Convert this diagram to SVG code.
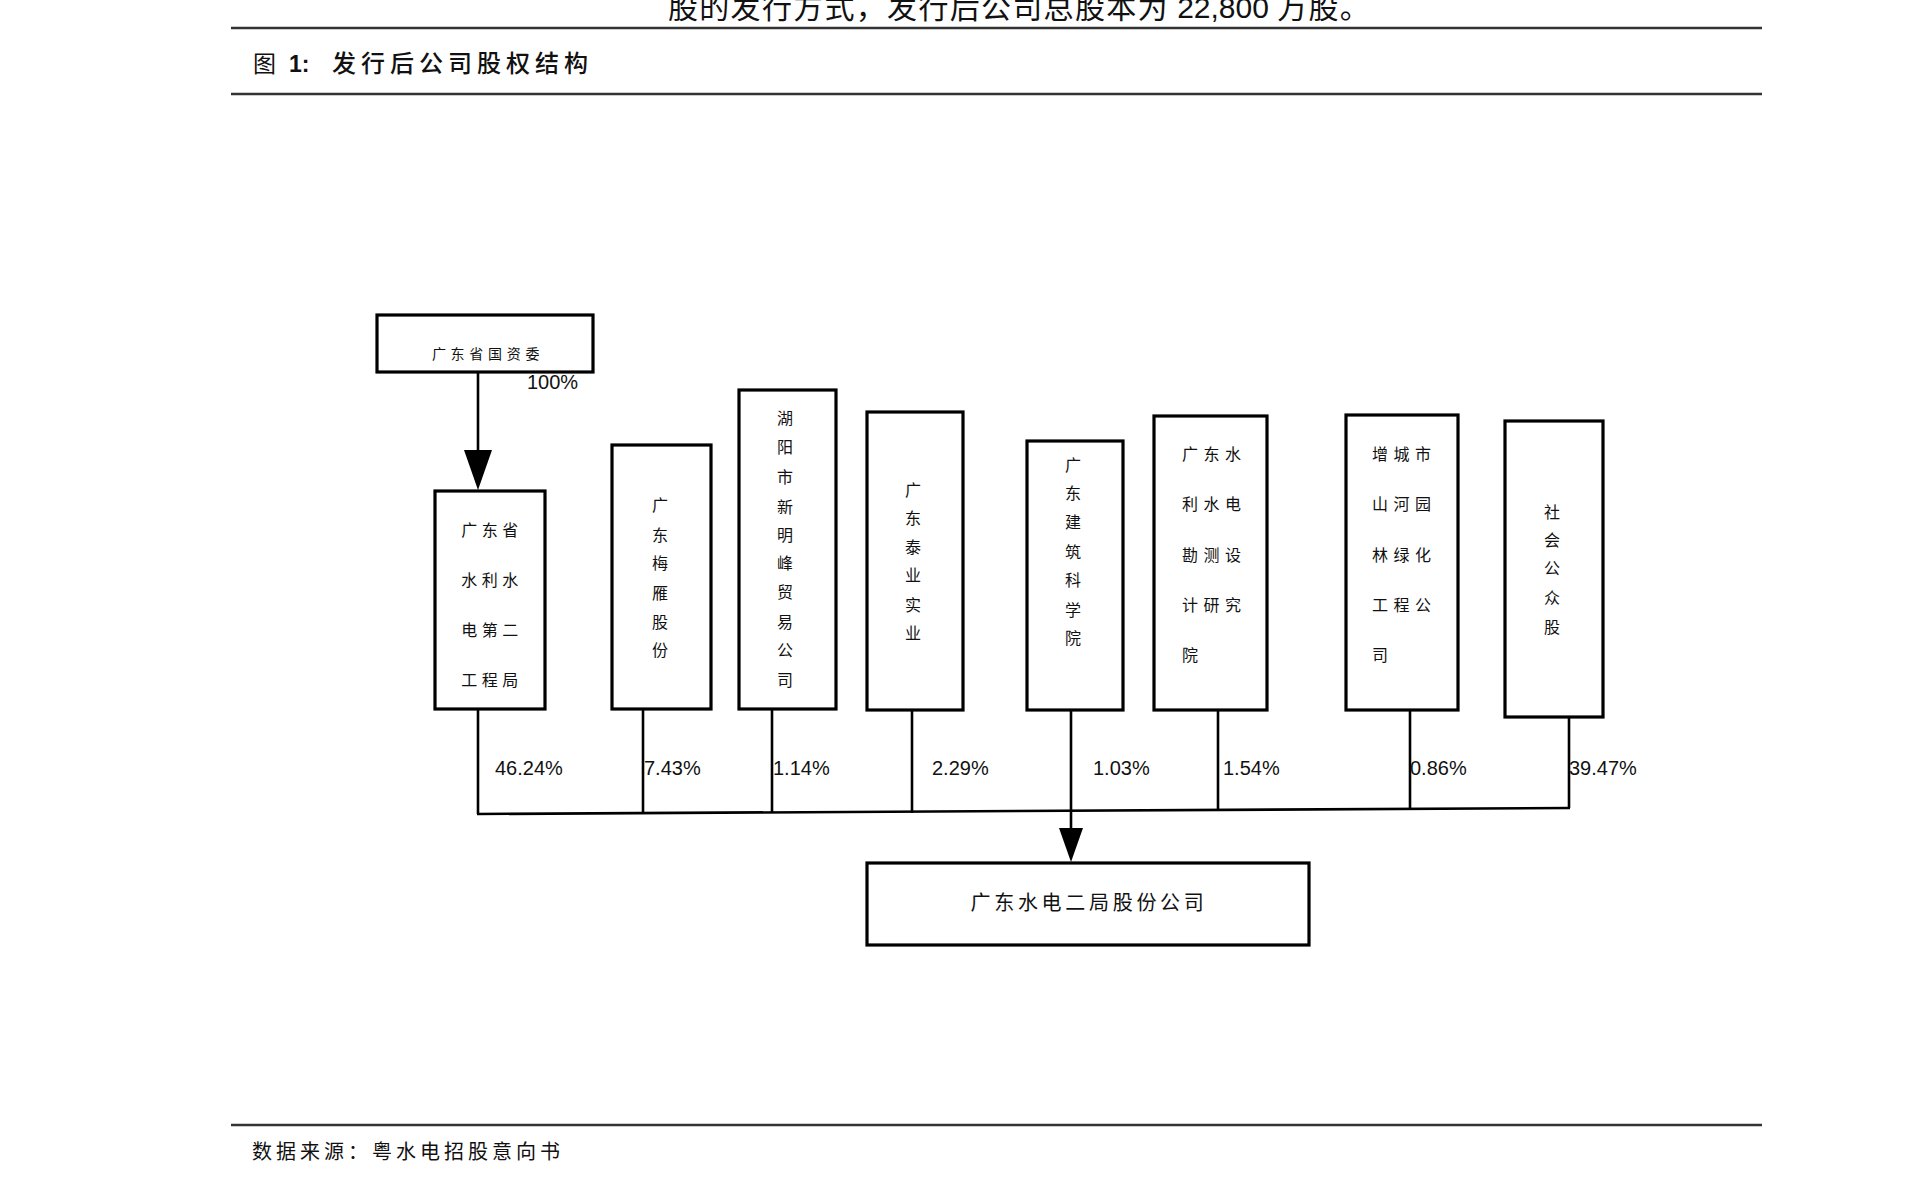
<svg xmlns="http://www.w3.org/2000/svg" width="1920" height="1197" viewBox="0 0 1920 1197">
<style>
.bg{fill:#fff}
.rule{stroke:#333;stroke-width:2.5;fill:none}
.box{fill:#fff;stroke:#000;stroke-width:3.2}
.cn{font-family:"Noto Sans CJK SC","Noto Sans",sans-serif;fill:#111}
.bx{font-size:16px;letter-spacing:4.5px}
.col{font-size:16px;text-anchor:middle}
.pct{font-family:"Liberation Sans",Arial,sans-serif;font-size:20px;fill:#111}
.ln{stroke:#000;stroke-width:2.6;fill:none}
.ah{fill:#000}
</style>
<rect class="bg" x="0" y="0" width="1920" height="1197"/>

<g id="header">
<text class="cn" x="668" y="18" font-size="30" letter-spacing="1.3">股的发行方式，发行后公司总股本为<tspan font-family="Liberation Sans, Arial, sans-serif" letter-spacing="0"> 22,800 </tspan>万股。</text>
<line class="rule" x1="231" y1="28" x2="1762" y2="28"/>
<text class="cn" x="253" y="72" font-size="23">图</text>
<text x="289" y="72" font-family="Liberation Sans, Arial, sans-serif" font-size="23" font-weight="bold" fill="#111">1:</text>
<text class="cn" x="332" y="72" font-size="24" letter-spacing="5" font-weight="500">发行后公司股权结构</text>
<line class="rule" x1="231" y1="94" x2="1762" y2="94"/>
</g>

<g id="connectors">
<line class="ln" x1="478" y1="372" x2="478" y2="452"/>
<polygon class="ah" points="464,450 492,450 478,490"/>
<line class="ln" x1="478" y1="709" x2="478" y2="814"/>
<line class="ln" x1="643" y1="709" x2="643" y2="814"/>
<line class="ln" x1="772" y1="709" x2="772" y2="813"/>
<line class="ln" x1="912" y1="709" x2="912" y2="813"/>
<line class="ln" x1="1218" y1="709" x2="1218" y2="811"/>
<line class="ln" x1="1410" y1="710" x2="1410" y2="810"/>
<line class="ln" x1="1569" y1="717" x2="1569" y2="808"/>
<line class="ln" x1="477" y1="814" x2="1570" y2="808"/>
<line class="ln" x1="1071" y1="709" x2="1071" y2="830"/>
<polygon class="ah" points="1059,828 1083,828 1071,862"/>
<text class="pct" x="527" y="389" font-size="18">100%</text>
<text class="pct" x="495" y="775">46.24%</text>
<text class="pct" x="644" y="775">7.43%</text>
<text class="pct" x="773" y="775">1.14%</text>
<text class="pct" x="932" y="775">2.29%</text>
<text class="pct" x="1093" y="775">1.03%</text>
<text class="pct" x="1223" y="775">1.54%</text>
<text class="pct" x="1410" y="775">0.86%</text>
<text class="pct" x="1569" y="775">39.47%</text>
</g>

<g id="n-guoziwei">
<rect class="box" x="377" y="315" width="216" height="57"/>
<text class="cn" x="488" y="359" font-size="14" letter-spacing="4.7" text-anchor="middle">广东省国资委</text>
</g>

<g id="n-erju">
<rect class="box" x="435" y="491" width="110" height="218"/>
<text class="cn bx" x="492" text-anchor="middle"><tspan x="492" y="536">广东省</tspan><tspan x="492" y="586">水利水</tspan><tspan x="492" y="636">电第二</tspan><tspan x="492" y="686">工程局</tspan></text>
</g>

<g id="n-meiyan">
<rect class="box" x="612" y="445" width="99" height="264"/>
<text class="cn col"><tspan x="660" y="511">广</tspan><tspan x="660" y="541">东</tspan><tspan x="660" y="569">梅</tspan><tspan x="660" y="599">雁</tspan><tspan x="660" y="628">股</tspan><tspan x="660" y="656">份</tspan></text>
</g>

<g id="n-xinmingfeng">
<rect class="box" x="739" y="390" width="97" height="319"/>
<text class="cn col"><tspan x="785" y="424">湖</tspan><tspan x="785" y="453">阳</tspan><tspan x="785" y="483">市</tspan><tspan x="785" y="513">新</tspan><tspan x="785" y="541">明</tspan><tspan x="785" y="569">峰</tspan><tspan x="785" y="598">贸</tspan><tspan x="785" y="628">易</tspan><tspan x="785" y="656">公</tspan><tspan x="785" y="686">司</tspan></text>
</g>

<g id="n-taiye">
<rect class="box" x="867" y="412" width="96" height="298"/>
<text class="cn col"><tspan x="913" y="496">广</tspan><tspan x="913" y="524">东</tspan><tspan x="913" y="553">泰</tspan><tspan x="913" y="581">业</tspan><tspan x="913" y="611">实</tspan><tspan x="913" y="639">业</tspan></text>
</g>

<g id="n-jianke">
<rect class="box" x="1027" y="441" width="96" height="269"/>
<text class="cn col"><tspan x="1073" y="471">广</tspan><tspan x="1073" y="499">东</tspan><tspan x="1073" y="528">建</tspan><tspan x="1073" y="558">筑</tspan><tspan x="1073" y="586">科</tspan><tspan x="1073" y="616">学</tspan><tspan x="1073" y="644">院</tspan></text>
</g>

<g id="n-kance">
<rect class="box" x="1154" y="416" width="113" height="294"/>
<text class="cn" font-size="16" letter-spacing="5.5"><tspan x="1182" y="460">广东水</tspan><tspan x="1182" y="510">利水电</tspan><tspan x="1182" y="561">勘测设</tspan><tspan x="1182" y="611">计研究</tspan><tspan x="1182" y="661">院</tspan></text>
</g>

<g id="n-shanhe">
<rect class="box" x="1346" y="415" width="112" height="295"/>
<text class="cn" font-size="16" letter-spacing="5.5"><tspan x="1372" y="460">增城市</tspan><tspan x="1372" y="510">山河园</tspan><tspan x="1372" y="561">林绿化</tspan><tspan x="1372" y="611">工程公</tspan><tspan x="1372" y="661">司</tspan></text>
</g>

<g id="n-gongzhong">
<rect class="box" x="1505" y="421" width="98" height="296"/>
<text class="cn col"><tspan x="1552" y="518">社</tspan><tspan x="1552" y="546">会</tspan><tspan x="1552" y="574">公</tspan><tspan x="1552" y="604">众</tspan><tspan x="1552" y="633">股</tspan></text>
</g>

<g id="n-company">
<rect class="box" x="867" y="863" width="442" height="82"/>
<text class="cn" x="1089" y="910" font-size="20" letter-spacing="3.7" text-anchor="middle">广东水电二局股份公司</text>
</g>

<g id="footer">
<line class="rule" x1="231" y1="1125" x2="1762" y2="1125"/>
<text class="cn" x="252" y="1159" font-size="20" letter-spacing="4">数据来源：粤水电招股意向书</text>
</g>
</svg>
